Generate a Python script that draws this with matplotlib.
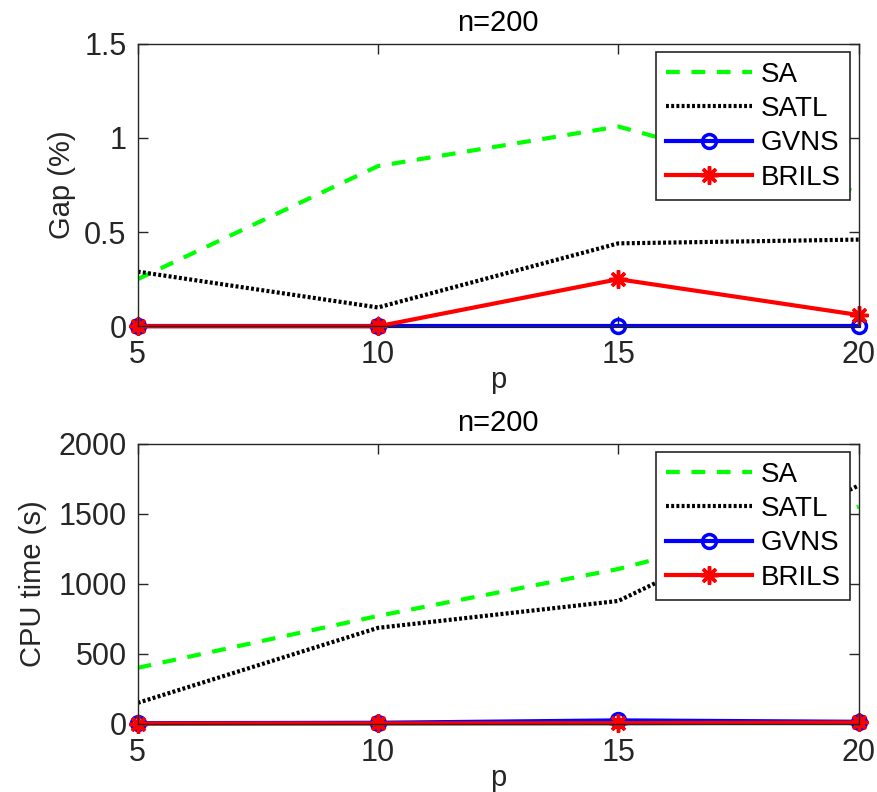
import numpy as np
import matplotlib
matplotlib.use('Agg')
import matplotlib.pyplot as plt

plt.rcParams['font.family'] = ['Liberation Sans', 'DejaVu Sans']

# ----------------------------------
# Data
# ----------------------------------
p_values = [5, 10, 15, 20]

gap_sa = [0.25, 0.85, 1.06, 0.71]
gap_satl = [0.29, 0.10, 0.44, 0.46]
gap_gvns = [0.0, 0.0, 0.0, 0.0]
gap_brils = [0.0, 0.0, 0.25, 0.06]

cpu_sa = [400, 770, 1105, 1550]
cpu_satl = [150, 685, 877, 1700]
cpu_gvns = [5, 8, 25, 15]
cpu_brils = [2, 3, 5, 10]

series_names = ['SA', 'SATL', 'GVNS', 'BRILS']
axis_gray = '#262626'

fig = plt.figure(figsize=(8.77, 7.92), dpi=100)
ax1 = fig.add_axes([0.157, 0.588, 0.822, 0.357])
ax2 = fig.add_axes([0.157, 0.086, 0.822, 0.354])


def draw_panel(ax, sa, satl, gvns, brils, ylim, yticks, ylabel, labelpad):
    ax.plot(p_values, sa, color='#00ff00', linestyle=(0, (3.3, 2.8)), linewidth=3, label=series_names[0])
    ax.plot(p_values, satl, color='black', linestyle=(0, (0.7, 0.55)), linewidth=3, label=series_names[1])
    ax.plot(p_values, gvns, color='blue', linewidth=3, marker='o', markersize=10,
            markerfacecolor='none', markeredgewidth=2.5, label=series_names[2], clip_on=False)
    ax.plot(p_values, brils, color='red', linewidth=3, marker=(8, 2, 0), markersize=13,
            markeredgewidth=2.5, label=series_names[3], clip_on=False)
    ax.set_xlim(5, 20)
    ax.set_ylim(*ylim)
    ax.set_xticks(p_values)
    ax.set_yticks(yticks)
    ax.set_yticklabels([('%g' % t) for t in yticks])
    ax.tick_params(direction='in', top=True, right=True, length=7, width=1,
                   labelsize=22, colors=axis_gray)
    ax.tick_params(axis='x', pad=10)
    ax.tick_params(axis='y', pad=8)
    for s in ax.spines.values():
        s.set_color(axis_gray)
        s.set_linewidth(1)
    ax.set_title('n=200', fontsize=21, color='black', pad=9)
    ax.set_xlabel('p', fontsize=21, color=axis_gray, labelpad=-3)
    ax.set_ylabel(ylabel, fontsize=21, color=axis_gray, labelpad=labelpad)
    leg = ax.legend(loc='upper right', fontsize=20, handlelength=3.1, fancybox=False,
                    framealpha=1, edgecolor=axis_gray, borderaxespad=0.3,
                    labelspacing=0.3, handletextpad=0.3, borderpad=0.35)
    leg.get_frame().set_linewidth(1.2)
    leg.set_zorder(10)


draw_panel(ax1, gap_sa, gap_satl, gap_gvns, gap_brils, (0, 1.5), [0, 0.5, 1, 1.5], 'Gap (%)', 6)
draw_panel(ax2, cpu_sa, cpu_satl, cpu_gvns, cpu_brils, (0, 2000), [0, 500, 1000, 1500, 2000], 'CPU time (s)', 8)

fig.savefig('out.png', dpi=100)
